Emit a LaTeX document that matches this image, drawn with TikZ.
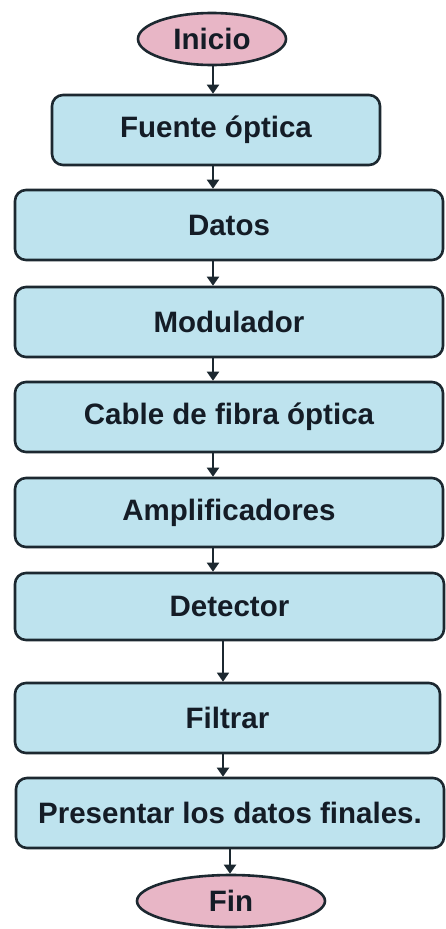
\documentclass[tikz,border=0pt]{standalone}
\usepackage{fontspec}
\setmainfont{Liberation Sans}
\usetikzlibrary{shapes.geometric,arrows.meta}
\definecolor{boxfill}{RGB}{190,227,238}
\definecolor{ovalfill}{RGB}{232,182,198}
\definecolor{edge}{RGB}{28,40,48}
\definecolor{txt}{RGB}{20,28,38}
\tikzset{
  base/.style={draw=edge, line width=2.6pt, text=txt, font=\bfseries\fontsize{29.5}{33}\selectfont, inner sep=0pt},
  procbox/.style={base, rectangle, rounded corners=11pt, fill=boxfill},
  oval/.style={base, ellipse, fill=ovalfill},
  arr/.style={draw=edge, line width=2pt, -{Triangle[length=9pt,width=12pt]}}
}
\begin{document}
\begin{tikzpicture}[x=1pt,y=-1pt]
\useasboundingbox[fill=white] (0,0) rectangle (445,929);
\node[oval, minimum width=148pt, minimum height=52pt] (ini) at (212,39) {Inicio};
\node[procbox, minimum width=328pt, minimum height=70pt] (fue) at (216,130) {Fuente óptica};
\node[procbox, minimum width=428pt, minimum height=70pt] (dat) at (229,225) {Datos};
\node[procbox, minimum width=428pt, minimum height=70pt] (mod) at (229,322) {Modulador};
\node[procbox, minimum width=428pt, minimum height=70pt] (cab) at (229,417) {Cable de fibra óptica};
\node[procbox, minimum width=428pt, minimum height=69pt] (amp) at (229,512.5) {Amplificadores};
\node[procbox, minimum width=429pt, minimum height=67pt] (det) at (229.5,606.5) {Detector};
\node[procbox, minimum width=425pt, minimum height=70pt] (fil) at (227.5,718) {Filtrar};
\node[procbox, minimum width=428pt, minimum height=70pt] (pre) at (230,813) {Presentar los datos finales.};
\node[oval, minimum width=188pt, minimum height=52pt] (fin) at (231,901) {Fin};
\coordinate (xa) at (213,0);
\coordinate (xb) at (223,0);
\coordinate (xc) at (230,0);
\draw[arr] (ini.south -| xa) -- (fue.north -| xa);
\draw[arr] (fue.south -| xa) -- (dat.north -| xa);
\draw[arr] (dat.south -| xa) -- (mod.north -| xa);
\draw[arr] (mod.south -| xa) -- (cab.north -| xa);
\draw[arr] (cab.south -| xa) -- (amp.north -| xa);
\draw[arr] (amp.south -| xa) -- (det.north -| xa);
\draw[arr, line width=1.4pt] (det.south -| xb) -- (fil.north -| xb);
\draw[arr] (fil.south -| xb) -- (pre.north -| xb);
\draw[arr] (pre.south -| xc) -- (fin.north -| xc);
\end{tikzpicture}
\end{document}
